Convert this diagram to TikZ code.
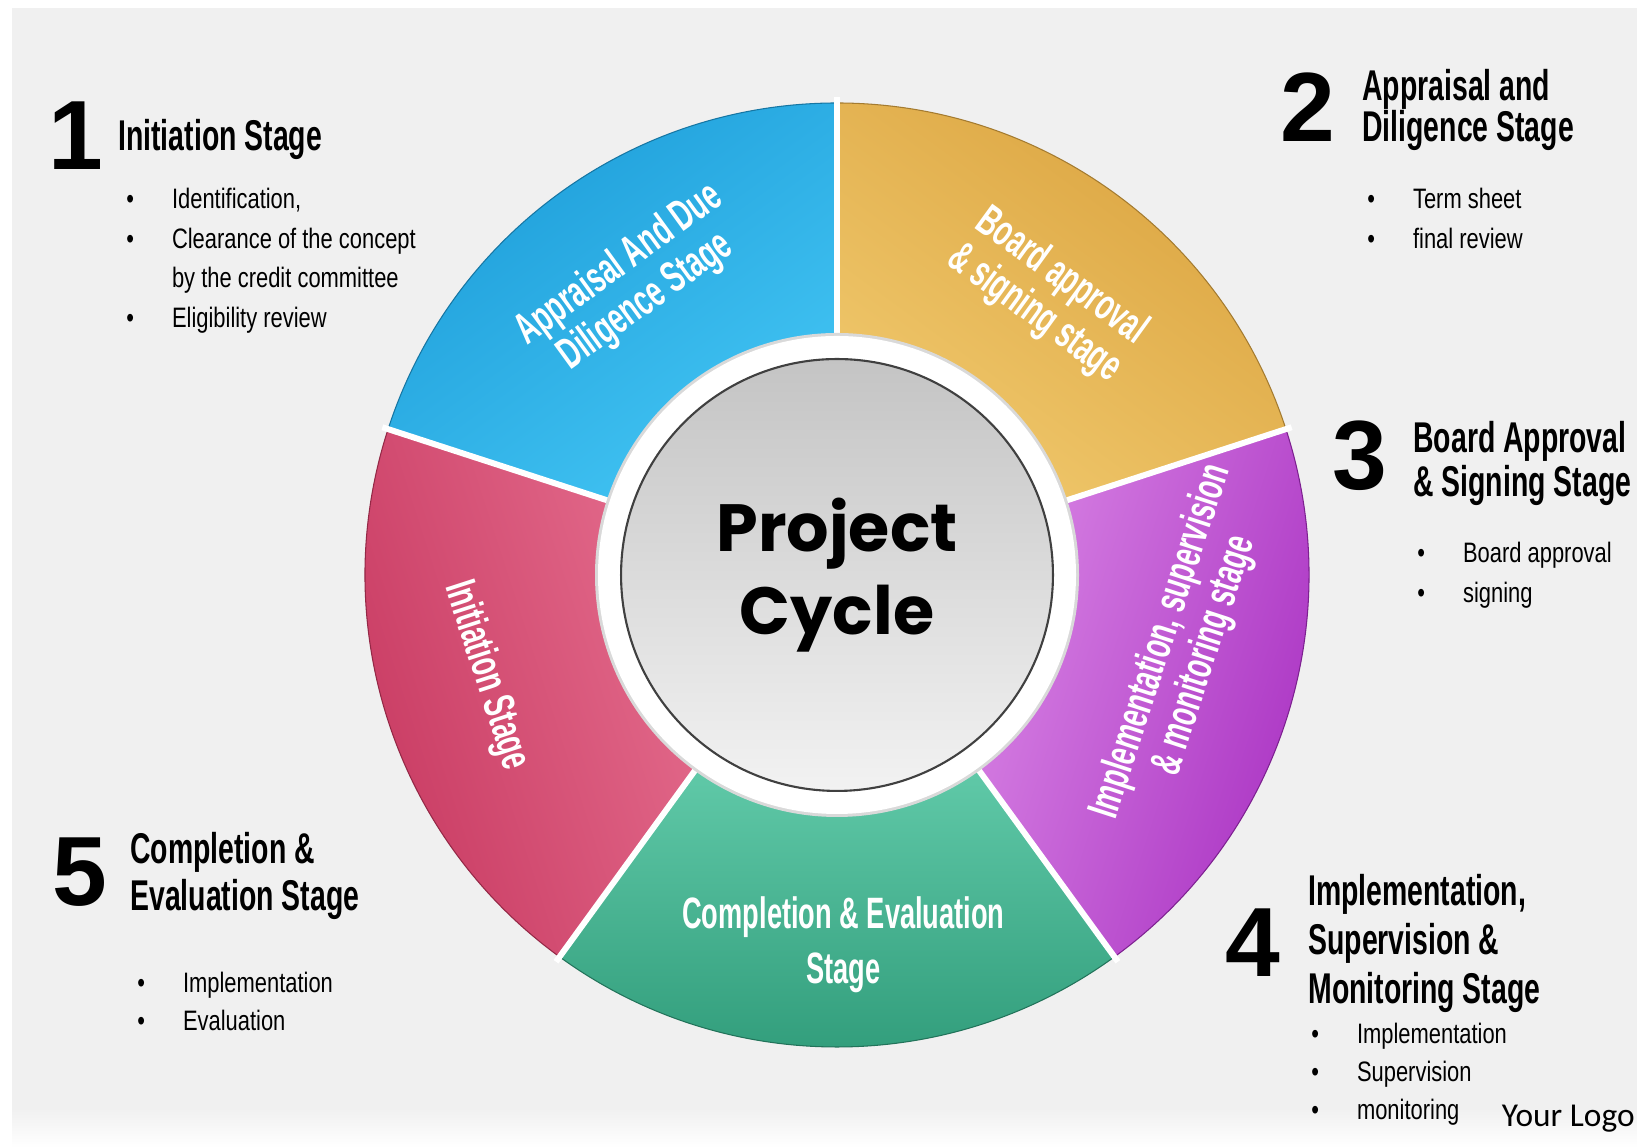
\documentclass[tikz,border=0pt]{standalone}
\usepackage{fontspec}
\setmainfont{Liberation Sans}
\newfontfamily\condfont[FakeStretch=0.66]{Liberation Sans}
\newfontfamily\slimfont[FakeStretch=0.62]{Liberation Sans}
\newfontfamily\narrowfont[FakeStretch=0.78]{Liberation Sans}
\newfontfamily\roundfont{Poppins}
\newfontfamily\logofont{Carlito}
\usetikzlibrary{shapes,backgrounds}

\definecolor{pagegrey}{HTML}{F0F0F0}
\definecolor{hubtop}{HTML}{C4C4C4}
\definecolor{hubbot}{HTML}{F2F2F2}
\definecolor{blueA}{HTML}{1D9DD9}
\definecolor{blueB}{HTML}{42C4F3}
\definecolor{goldA}{HTML}{DBA440}
\definecolor{goldB}{HTML}{F0C86C}
\definecolor{purpleA}{HTML}{A62CC0}
\definecolor{purpleB}{HTML}{D883E4}
\definecolor{greenA}{HTML}{2E9A78}
\definecolor{greenB}{HTML}{60C9A8}
\definecolor{redA}{HTML}{C6365E}
\definecolor{redB}{HTML}{E46C8D}

\newcommand{\bul}{\makebox[26pt][l]{\textbullet}}
\newcommand{\ind}{\hspace*{26pt}}

\tikzset{
    stagenum/.style={font=\fontsize{56}{56}\selectfont\bfseries, inner sep=0pt},
    stagehead/.style={font=\condfont\bfseries\fontsize{24.5}{#1}\selectfont, align=left, anchor=north west, inner sep=0pt},
    stagehead/.default=24,
    stageitems/.style={font=\narrowfont\fontsize{16}{#1}\selectfont, align=left, anchor=north west, inner sep=0pt},
    stageitems/.default=22.5,
    seglabel/.style={font=\slimfont\bfseries\fontsize{25}{#1}\selectfont, text=white, align=center, inner sep=0pt},
    seglabel/.default=26,
    hub/.style={circle, draw=black!75, line width=1.2pt, minimum size=8.64cm, top color=hubtop, bottom color=hubbot,
        font=\roundfont\bfseries\fontsize{38}{47}\selectfont, align=center}
}

\begin{document}
\begin{tikzpicture}[x=0.02cm, y=0.02cm]
                \useasboundingbox (0,0) rectangle (1637,1148);
                \fill[white] (0,0) rectangle (1637,1148);
                \fill[pagegrey] (12,40) rectangle (1637,1140);
                \shade[top color=pagegrey, bottom color=white] (12,0) rectangle (1637,40);

                \begin{scope}[shift={(837,573)}]
                    \foreach \a/\b/\n in {90/162/blue, 18/90/gold, -54/18/purple, -126/-54/green, 162/234/red}{
                        \pgfmathsetmacro\tilt{(\a+\b)/2-90}
                        \shadedraw[draw=\n A!75!black, line width=0.6pt, top color=\n A, bottom color=\n B, shading angle=\tilt]
                            (\a:240) arc[start angle=\a, end angle=\b, radius=240] -- (\b:472)
                            arc[start angle=\b, end angle=\a, radius=472] -- cycle;
                    }
                    \foreach \a in {90, 18, -54, -126, 162}
                        \draw[white, line width=3.4pt] (\a:236) -- (\a:478);
                    \fill[black!15] (0,0) circle[radius=242];
                    \fill[white] (0,0) circle[radius=239];
                    \node[hub] (hub) at (0,0) {Project\\Cycle};

                    \node[seglabel, rotate=-72] (seg1) at (196:365) {Initiation Stage};
                    \node[seglabel=26, rotate=36] (seg2) at (125:356) {Appraisal And Due\\Diligence Stage};
                    \node[seglabel=26, rotate=-36] (seg3) at (53:350) {Board approval\\\& signing stage};
                    \node[seglabel=26, rotate=72] (seg4) at (-12:354) {Implementation, supervision\\\& monitoring stage};
                    \node[seglabel=31] (seg5) at (-89:370) {Completion \& Evaluation\\Stage};
                \end{scope}

                \node[stagenum] (num1) at (76,1012) {1};
                \node[stagehead] (head1) at (118,1029) {Initiation Stage};
                \node[stageitems=22.5] (items1) at (126,960) {\bul Identification,\\\bul Clearance of the concept\\\ind by the credit committee\\\bul Eligibility review};

                \node[stagenum] (num2) at (1308,1041) {2};
                \node[stagehead=23.5] (head2) at (1362,1079) {Appraisal and\\Diligence Stage};
                \node[stageitems=22.8] (items2) at (1367,960) {\bul Term sheet\\\bul final review};

                \node[stagenum] (num3) at (1360,692) {3};
                \node[stagehead=25] (head3) at (1413,727) {Board Approval\\\& Signing Stage};
                \node[stageitems=22.8] (items3) at (1417,606) {\bul Board approval\\\bul signing};

                \node[stagenum] (num4) at (1253,205) {4};
                \node[stagehead=28] (head4) at (1308,274) {Implementation,\\Supervision \&\\Monitoring Stage};
                \node[stageitems=21.6] (items4) at (1311,125) {\bul Implementation\\\bul Supervision\\\bul monitoring};

                \node[stagenum] (num5) at (80,276) {5};
                \node[stagehead=26.8] (head5) at (130,316) {Completion \&\\Evaluation Stage};
                \node[stageitems=21.6] (items5) at (137,176) {\bul Implementation\\\bul Evaluation};

                \node[font=\logofont\fontsize{19}{19}\selectfont, anchor=base east, inner sep=0pt] (logo) at (1635,21) {Your Logo};
\end{tikzpicture}
\end{document}
